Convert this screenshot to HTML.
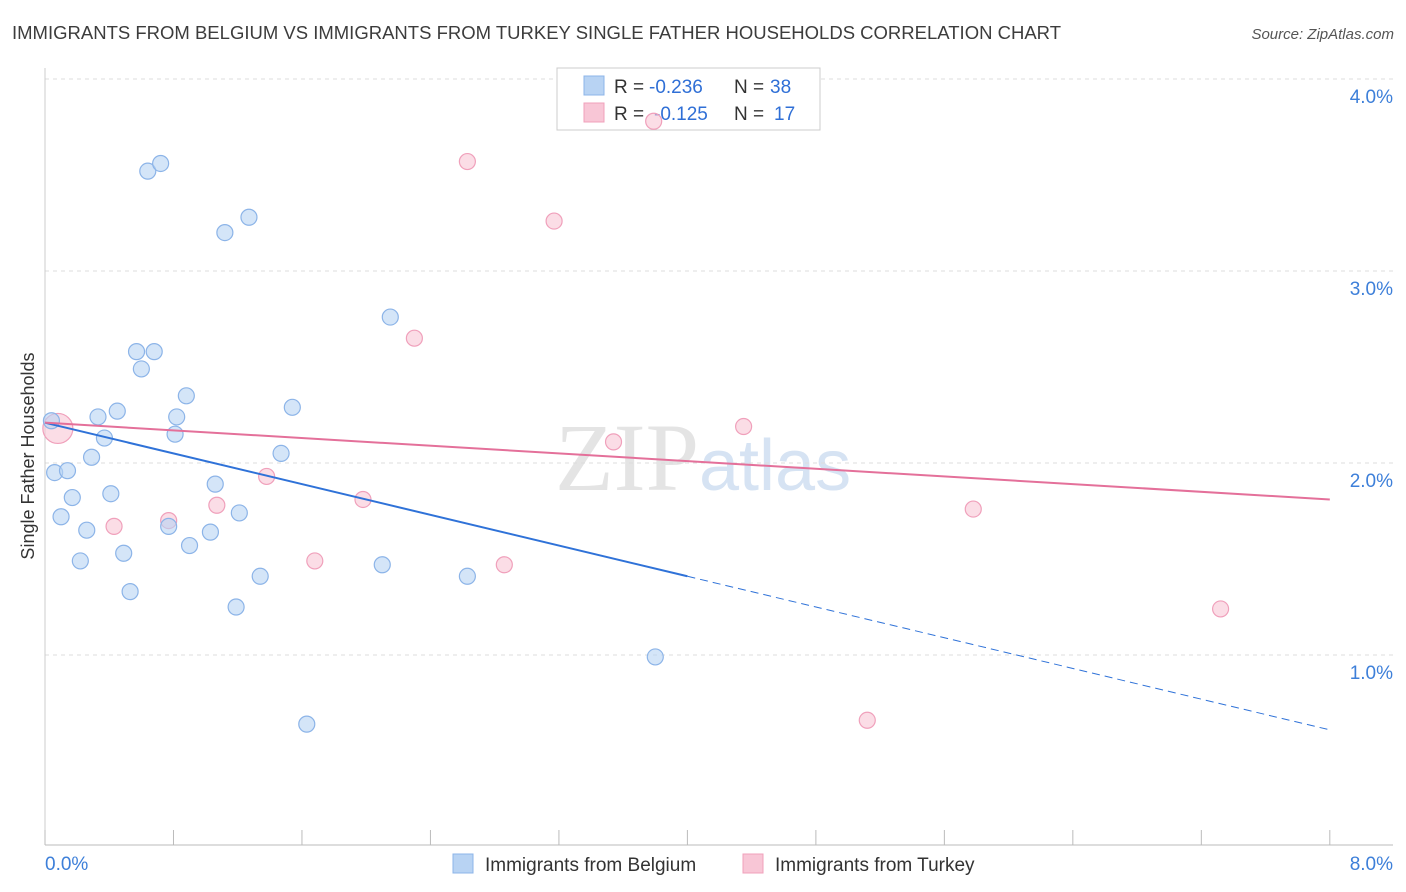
<!DOCTYPE html>
<html><head><meta charset="utf-8"><style>
body{margin:0;background:#fff;font-family:"Liberation Sans",sans-serif;}
svg{display:block}
</style></head><body>
<svg id="c" width="1406" height="892">
<text x="12" y="39" font-size="18" fill="#3c3c3c" textLength="1049" lengthAdjust="spacingAndGlyphs">IMMIGRANTS FROM BELGIUM VS IMMIGRANTS FROM TURKEY SINGLE FATHER HOUSEHOLDS CORRELATION CHART</text>
<text x="1394" y="39" font-size="15" fill="#555" font-style="italic" text-anchor="end">Source: ZipAtlas.com</text>
<text x="555" y="490" font-size="96" fill="#e4e4e4" font-family="Liberation Serif">ZIP<tspan fill="#d6e3f3" font-family="Liberation Sans" font-size="72">atlas</tspan></text>
<text transform="translate(34,456) rotate(-90)" font-size="18" fill="#333" text-anchor="middle">Single Father Households</text>
<g id="grid"></g>
<g>
<rect x="557" y="68" width="263" height="62" fill="#fff" stroke="#ccc"/>
<rect x="584" y="76" width="20" height="19" fill="#b8d3f3" stroke="#8cb4e8"/>
<rect x="584" y="103" width="20" height="19" fill="#f8c6d6" stroke="#f0a0bb"/>
<text x="614" y="93" font-size="19" fill="#333">R =</text>
<text x="649" y="93" font-size="19" fill="#2f6fd6">-0.236</text>
<text x="734" y="93" font-size="19" fill="#333">N =</text>
<text x="770" y="93" font-size="19" fill="#2f6fd6">38</text>
<text x="614" y="120" font-size="19" fill="#333">R =</text>
<text x="654" y="120" font-size="19" fill="#2f6fd6">-0.125</text>
<text x="734" y="120" font-size="19" fill="#333">N =</text>
<text x="774" y="120" font-size="19" fill="#2f6fd6">17</text>
</g>
<g id="marks"></g>
<g>
<rect x="453" y="854" width="20" height="19" fill="#b8d3f3" stroke="#8cb4e8"/>
<text x="485" y="871" font-size="19" fill="#333">Immigrants from Belgium</text>
<rect x="743" y="854" width="20" height="19" fill="#f8c6d6" stroke="#f0a0bb"/>
<text x="775" y="871" font-size="19" fill="#333">Immigrants from Turkey</text>
</g>
</svg>
<script>
const yTicks=[1,2,3,4];
const yTickLabels=["1.0%","2.0%","3.0%","4.0%"];
const xTickLabels=["0.0%","8.0%"];
const belgiumX=[0.04,0.06,0.14,0.10,0.17,0.22,0.26,0.29,0.33,0.37,0.41,0.45,0.49,0.53,0.57,0.60,0.64,0.68,0.72,0.77,0.81,0.82,0.88,0.90,1.03,1.06,1.12,1.19,1.21,1.27,1.34,1.47,1.54,1.63,2.10,2.15,2.63,3.80];
const belgiumY=[2.22,1.95,1.96,1.72,1.82,1.49,1.65,2.03,2.24,2.13,1.84,2.27,1.53,1.33,2.58,2.49,3.52,2.58,3.56,1.67,2.15,2.24,2.35,1.57,1.64,1.89,3.20,1.25,1.74,3.28,1.41,2.05,2.29,0.64,1.47,2.76,1.41,0.99];
const turkeyX=[0.08,0.43,0.77,1.07,1.38,1.68,1.98,2.30,2.63,2.86,3.17,3.54,3.79,4.35,5.12,5.78,7.32];
const turkeyY=[2.18,1.67,1.70,1.78,1.93,1.49,1.81,2.65,3.57,1.47,3.26,2.11,3.78,2.19,0.66,1.76,1.24];
const belgiumTrend=[2.21,-0.2];
const turkeyTrend=[2.21,-0.05];
const X=v=>45+v*160.6, Y=v=>847-v*192;
const NS="http://www.w3.org/2000/svg";
function mk(t,a,p){const e=document.createElementNS(NS,t);for(const k in a)e.setAttribute(k,a[k]);p.appendChild(e);return e;}
const g=document.getElementById('grid'), m=document.getElementById('marks');
yTicks.forEach((t,i)=>{
 const l=mk('line',{x1:45,x2:1393,y1:Y(t),y2:Y(t),stroke:'#ddd','stroke-dasharray':'4,4'},g);
 
 
 const tx=mk('text',{x:1393,y:Y(t)+24,'font-size':19,fill:'#3d7fd9','text-anchor':'end'},g);
 tx.textContent=yTickLabels[i];
 
 
});
const ax=mk('line',{x1:45,x2:1393,y1:845,y2:845,stroke:'#bbb'},g);


const ay=mk('line',{x1:45,x2:45,y1:68,y2:845,stroke:'#ccc'},g);


for(let i=0;i<=10;i++){
 const t=mk('line',{x1:X(i*0.8),x2:X(i*0.8),y1:830,y2:845,stroke:'#bbb'},g);
 
 
}
[[0,'start',45],[8,'end',1393]].forEach((d,i)=>{
 const tx=mk('text',{x:d[2],y:870,'font-size':19,fill:'#3d7fd9','text-anchor':d[1]},g);
 tx.textContent=xTickLabels[i];
 
 
});
turkeyX.forEach((x,i)=>{
 const c=mk('circle',{cx:X(x),cy:Y(turkeyY[i]),r:i==0?15:8,fill:'#f8c6d6','fill-opacity':0.6,stroke:'#f0a0bb','stroke-width':1.2},m);
 
 
});
belgiumX.forEach((x,i)=>{
 const c=mk('circle',{cx:X(x),cy:Y(belgiumY[i]),r:8,fill:'#b8d3f3','fill-opacity':0.6,stroke:'#8cb4e8','stroke-width':1.2},m);
 
 
});
const f=(tr,x)=>Y(tr[0]+tr[1]*x);
const b1=mk('line',{x1:X(0),y1:f(belgiumTrend,0),x2:X(4),y2:f(belgiumTrend,4),stroke:'#2f72d8','stroke-width':2},m);


const b2=mk('line',{x1:X(4),y1:f(belgiumTrend,4),x2:X(8),y2:f(belgiumTrend,8),stroke:'#2f72d8','stroke-width':1,'stroke-dasharray':'8,5'},m);


const p1=mk('line',{x1:X(0),y1:f(turkeyTrend,0),x2:X(8),y2:f(turkeyTrend,8),stroke:'#e4709a','stroke-width':2},m);


</script>
</body></html>
